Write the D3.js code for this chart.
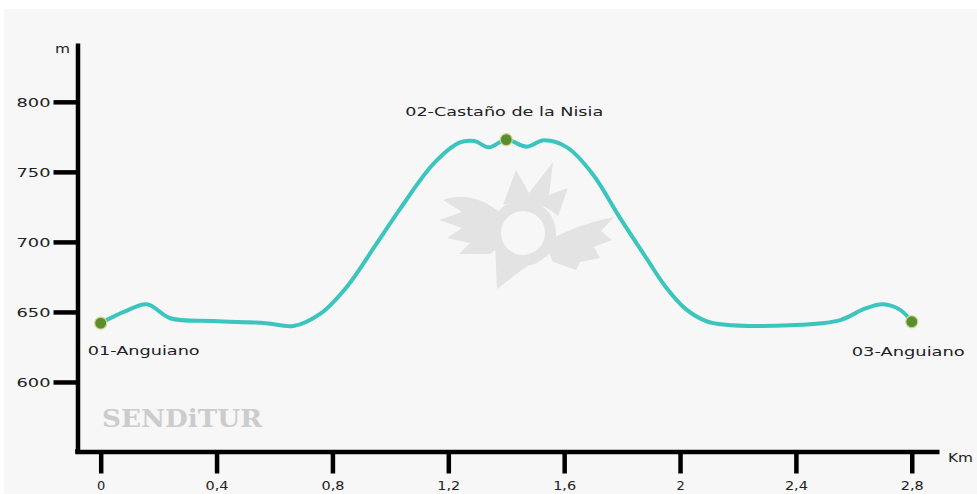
<!DOCTYPE html>
<html>
<head>
<meta charset="utf-8">
<script src="https://cdn.jsdelivr.net/npm/d3@7"></script>
<style>
  html, body { margin: 0; padding: 0; background: #ffffff; }
  svg { display: block; }
</style>
</head>
<body>
<svg id="chart" width="977" height="494" font-family="'DejaVu Sans', Verdana, sans-serif"></svg>
<script>
// ---- data ----
const distKm = [0, 0.08, 0.16, 0.24, 0.39, 0.57, 0.665, 0.76, 0.85, 0.95, 1.03, 1.15, 1.24, 1.29, 1.34, 1.40, 1.47, 1.53, 1.61, 1.70, 1.79, 1.885, 1.95, 2.02, 2.09, 2.15, 2.38, 2.55, 2.64, 2.70, 2.76, 2.80];
const elevM  = [642, 650, 655.5, 645.5, 643.5, 642, 640, 649, 668, 698, 722.5, 756, 771, 772, 767.5, 773, 768, 772.5, 767.5, 748, 718, 688, 668, 652, 643.5, 641, 640.5, 644, 652.5, 655.5, 651.5, 643];
const waypointNames = ["01-Anguiano", "02-Castaño de la Nisia", "03-Anguiano"];
const waypointKm = [0, 1.4, 2.8];
const waypointM = [642, 773, 643];
const yTicks = [600, 650, 700, 750, 800];
const xTicks = [0, 0.4, 0.8, 1.2, 1.6, 2, 2.4, 2.8];
const yUnit = "m";
const xUnit = "Km";
const watermarkText = "SENDiTUR";

// ---- layout ----
const svg = d3.select("#chart");
svg.append("rect").attr("x", 4).attr("y", 9).attr("width", 973).attr("height", 485).attr("fill", "#f7f7f7");

const x = d3.scaleLinear().domain([-0.0887, 2.894]).range([75, 939]);
const y = d3.scaleLinear().domain([550, 842]).range([452, 43]);
const axisColor = "#000";
const textColor = "#222";

// ---- watermark logo ----
const logo = svg.append("g").attr("fill", "#e3e3e3");
const C = [523, 233];
logo.append("path").attr("d", "M502,214 C485,200 465,192 443,200 L462,212 L439,220 L462,228 L447,238 L470,243 L459,254 L490,254 L503,244 Z");
logo.append("path").attr("d", "M545,243 C565,230 590,222 614,217 L601,231 L612,240 L594,247 L600,258 L580,262 L576,270 L553,262 Z");
logo.append("path").attr("d", "M503,205 L516,170 L529,193 L553,162 L549,195 L568,188 L558,216 C540,200 520,200 503,205 Z");
logo.append("path").attr("d", "M494,220 L552,247 L497,289 Z");
logo.append("circle").attr("cx", C[0]).attr("cy", C[1]).attr("r", 33);
logo.append("circle").attr("cx", C[0]).attr("cy", C[1]).attr("r", 22).attr("fill", "#f7f7f7");

// watermark text
svg.append("text").attr("x", 102).attr("y", 427)
  .attr("font-family", "'DejaVu Serif', 'Liberation Serif', serif")
  .attr("font-weight", "bold").attr("font-size", 24).attr("fill", "#cccccc")
  .attr("textLength", 160).attr("lengthAdjust", "spacingAndGlyphs")
  .text(watermarkText);

// ---- axes ----
const yAxis = d3.axisLeft(y).tickValues(yTicks).tickSize(24).tickSizeOuter(0).tickPadding(3);
const gy = svg.append("g").attr("transform", "translate(77.5,0)").call(yAxis);
gy.attr("font-family", null);
gy.select(".domain").attr("stroke", axisColor).attr("stroke-width", 4.5);
gy.selectAll(".tick line").attr("stroke", axisColor).attr("stroke-width", 4.5);
gy.selectAll(".tick text").attr("fill", textColor).attr("font-size", 13)
  .attr("textLength", 34).attr("lengthAdjust", "spacingAndGlyphs").attr("dy", "0.36em");

const xAxis = d3.axisBottom(x).tickValues(xTicks).tickSize(22).tickSizeOuter(0)
  .tickFormat(d => String(d).replace(".", ","));
const gx = svg.append("g").attr("transform", "translate(0,451.5)").call(xAxis);
gx.attr("font-family", null);
gx.select(".domain").attr("stroke", axisColor).attr("stroke-width", 4.5);
gx.selectAll(".tick line").attr("stroke", axisColor).attr("stroke-width", 4.5);
gx.selectAll(".tick text").attr("fill", textColor).attr("font-size", 13)
  .attr("y", 38).attr("dy", 0)
  .each(function(d) {
    const s = String(d);
    if (s.length > 1) d3.select(this).attr("textLength", 23).attr("lengthAdjust", "spacingAndGlyphs");
  });
svg.append("rect").attr("x", 75.25).attr("y", 449.25).attr("width", 4.5).attr("height", 4.5).attr("fill", axisColor);

// units
svg.append("text").attr("x", 55).attr("y", 53).attr("font-size", 13).attr("fill", textColor)
  .attr("textLength", 15).attr("lengthAdjust", "spacingAndGlyphs").text(yUnit);
svg.append("text").attr("x", 948).attr("y", 462).attr("font-size", 13).attr("fill", textColor)
  .attr("textLength", 25).attr("lengthAdjust", "spacingAndGlyphs").text(xUnit);

// ---- profile line ----
const pts = distKm.map((d, i) => [d, elevM[i]]);
const line = d3.line().x(d => x(d[0])).y(d => y(d[1])).curve(d3.curveCatmullRom.alpha(0.5));
svg.append("path").datum(pts).attr("d", line)
  .attr("fill", "none").attr("stroke", "#3cc5bf").attr("stroke-width", 4)
  .attr("stroke-linecap", "round").attr("stroke-linejoin", "round");

// ---- waypoints ----
const wp = waypointNames.map((n, i) => ({ name: n, km: waypointKm[i], m: waypointM[i] }));
svg.selectAll("circle.wp").data(wp).enter().append("circle").attr("class", "wp")
  .attr("cx", d => x(d.km)).attr("cy", d => y(d.m)).attr("r", 6)
  .attr("fill", "#5e8c31").attr("stroke", "#c9da8c").attr("stroke-width", 1.2);

const labelCfg = [
  { dx: -13, dy: 32, anchor: "start", len: 112 },
  { dx: -2, dy: -24, anchor: "middle", len: 198 },
  { dx: -60, dy: 34, anchor: "start", len: 113 }
];
svg.selectAll("text.wpl").data(wp).enter().append("text").attr("class", "wpl")
  .attr("x", (d, i) => x(d.km) + labelCfg[i].dx)
  .attr("y", (d, i) => y(d.m) + labelCfg[i].dy)
  .attr("text-anchor", (d, i) => labelCfg[i].anchor)
  .attr("font-size", 13).attr("fill", textColor)
  .attr("textLength", (d, i) => labelCfg[i].len).attr("lengthAdjust", "spacingAndGlyphs")
  .text(d => d.name);
</script>
</body>
</html>
